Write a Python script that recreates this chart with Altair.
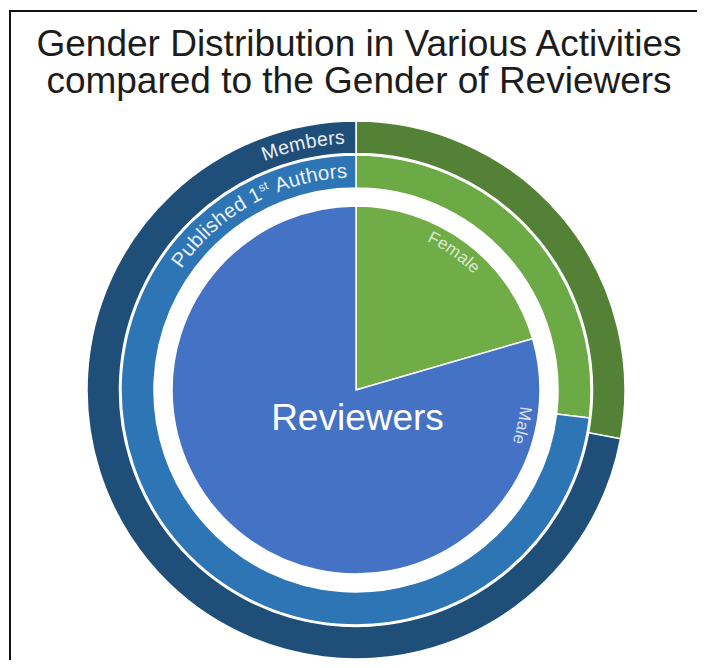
import altair as alt
import pandas as pd
import numpy as np

# ---- data ----
rings = ["Reviewers", "Published 1st Authors", "Members"]
genders = ["Female", "Male"]
female_pct = [20.5, 26.9, 27.9]
male_pct = [79.5, 73.1, 72.1]
title_lines = ["Gender Distribution in Various Activities",
               "compared to the Gender of Reviewers"]

# ---- styling ----
ring_colors = {
    "Reviewers": ["#70AD47", "#4472C4"],
    "Published 1st Authors": ["#6BAA44", "#2E75B6"],
    "Members": ["#538135", "#1F4E79"],
}
W, H = 689, 652
CX, CY = 348, 382
FONT = "Liberation Sans"

rows = []
for i, ring in enumerate(rings):
    for j, g in enumerate(genders):
        val = female_pct[i] if g == "Female" else male_pct[i]
        rows.append(dict(ring=ring, gender=g, pct=val, ord=j, key=f"{ring}|{g}"))
df = pd.DataFrame(rows)

dom = [f"{r}|{g}" for r in rings for g in genders]
rng = [ring_colors[r][j] for r in rings for j in range(2)]


def ring_layer(ring, inner, outer):
    return alt.Chart(df).transform_filter(alt.datum.ring == ring).mark_arc(
        innerRadius=inner, outerRadius=outer, stroke="white", strokeWidth=1.5
    ).encode(
        theta=alt.Theta("pct:Q", stack=True, scale=alt.Scale(domain=[0, 100])),
        color=alt.Color("key:N", scale=alt.Scale(domain=dom, range=rng), legend=None),
        order=alt.Order("ord:Q"),
        x=alt.value(CX),
        y=alt.value(CY),
    )


pie = ring_layer("Reviewers", 0, 184)
middle = ring_layer("Published 1st Authors", 202, 235)
outer = ring_layer("Members", 236.5, 269)

# ---- curved annotations: characters laid out along an arc ----
ADV = {' ': 278, 'P': 667, 'u': 556, 'b': 556, 'l': 222, 'i': 222, 's': 500,
       'h': 556, 'e': 556, 'd': 556, '1': 556, 't': 278, 'A': 667, 'o': 556,
       'r': 333, 'M': 833, 'm': 833, 'F': 611, 'a': 556}
STRETCH = 1.05


def arc_text(parts, theta_c, r, col):
    """parts: list of (string, fontsize, radial offset)."""
    chars = []
    for s, fs, dr in parts:
        for ch in s:
            chars.append((ch, fs, dr, ADV.get(ch, 556) / 1000 * fs * STRETCH))
    total = sum(c[3] for c in chars)
    start = np.radians(theta_c) - total / 2 / r
    out, cum = [], 0.0
    for ch, fs, dr, w in chars:
        th = start + (cum + w / 2) / r
        cum += w
        if ch == ' ':
            continue
        rr = r + dr
        out.append(dict(text=ch, x=CX + rr * np.sin(th), y=CY - rr * np.cos(th),
                        rot=np.degrees(th) % 360, fs=fs, col=col))
    return out


ann = []
ann += arc_text([("Members", 19.5, 0)], -12.2, 252.5, "#e9eef5")
ann += arc_text([("Published 1", 20.5, 0), ("st", 12, 5), (" Authors", 20.5, 0)],
                -28.8, 218.5, "#eaf1f8")
ann += arc_text([("Female", 17, 0)], female_pct[0] / 100 * 360 / 2 - 1.5, 170, "#dde8d2")
ann += arc_text([("Male", 17, 0)], 102, 170, "#d6e0f2")
adf = pd.DataFrame(ann)

labels = alt.Chart(adf).mark_text(font=FONT, align="center", baseline="middle").encode(
    x=alt.X("x:Q", scale=None, axis=None),
    y=alt.Y("y:Q", scale=None, axis=None),
    text="text:N",
    angle=alt.Angle("rot:Q", scale=None),
    size=alt.Size("fs:Q", scale=None, legend=None),
    color=alt.Color("col:N", scale=None, legend=None),
)

center_df = pd.DataFrame({"text": [rings[0]]})
center_label = alt.Chart(center_df).mark_text(
    font=FONT, fontSize=37, color="white", align="center", baseline="alphabetic"
).encode(text="text:N", x=alt.value(CX + 1.5), y=alt.value(422))

tdf = pd.DataFrame({"text": title_lines, "line": [0, 1]})
title = alt.Chart(tdf).mark_text(
    font=FONT, fontSize=37, color="#1c1c1c", align="center", baseline="alphabetic"
).encode(
    text="text:N",
    x=alt.value(351),
    y=alt.Y("line:Q", scale=alt.Scale(domain=[0, 1], range=[48, 85]), axis=None),
)

frame_df = pd.DataFrame({"a": [0]})
frame_top = alt.Chart(frame_df).mark_rule(color="#111111", strokeWidth=2).encode(
    x=alt.value(2), x2=alt.value(W), y=alt.value(3)
)
frame_left = alt.Chart(frame_df).mark_rule(color="#111111", strokeWidth=2).encode(
    x=alt.value(2), y=alt.value(2), y2=alt.value(H)
)

chart = alt.layer(
    frame_top, frame_left, outer, middle, pie, labels, center_label, title
).properties(
    width=W, height=H, autosize=alt.AutoSizeParams(type="none"), padding=0,
    background="white",
).resolve_scale(color="independent", x="independent", y="independent").configure_view(stroke=None)

chart.save("out.html", embed_options={"renderer": "svg", "actions": False})
